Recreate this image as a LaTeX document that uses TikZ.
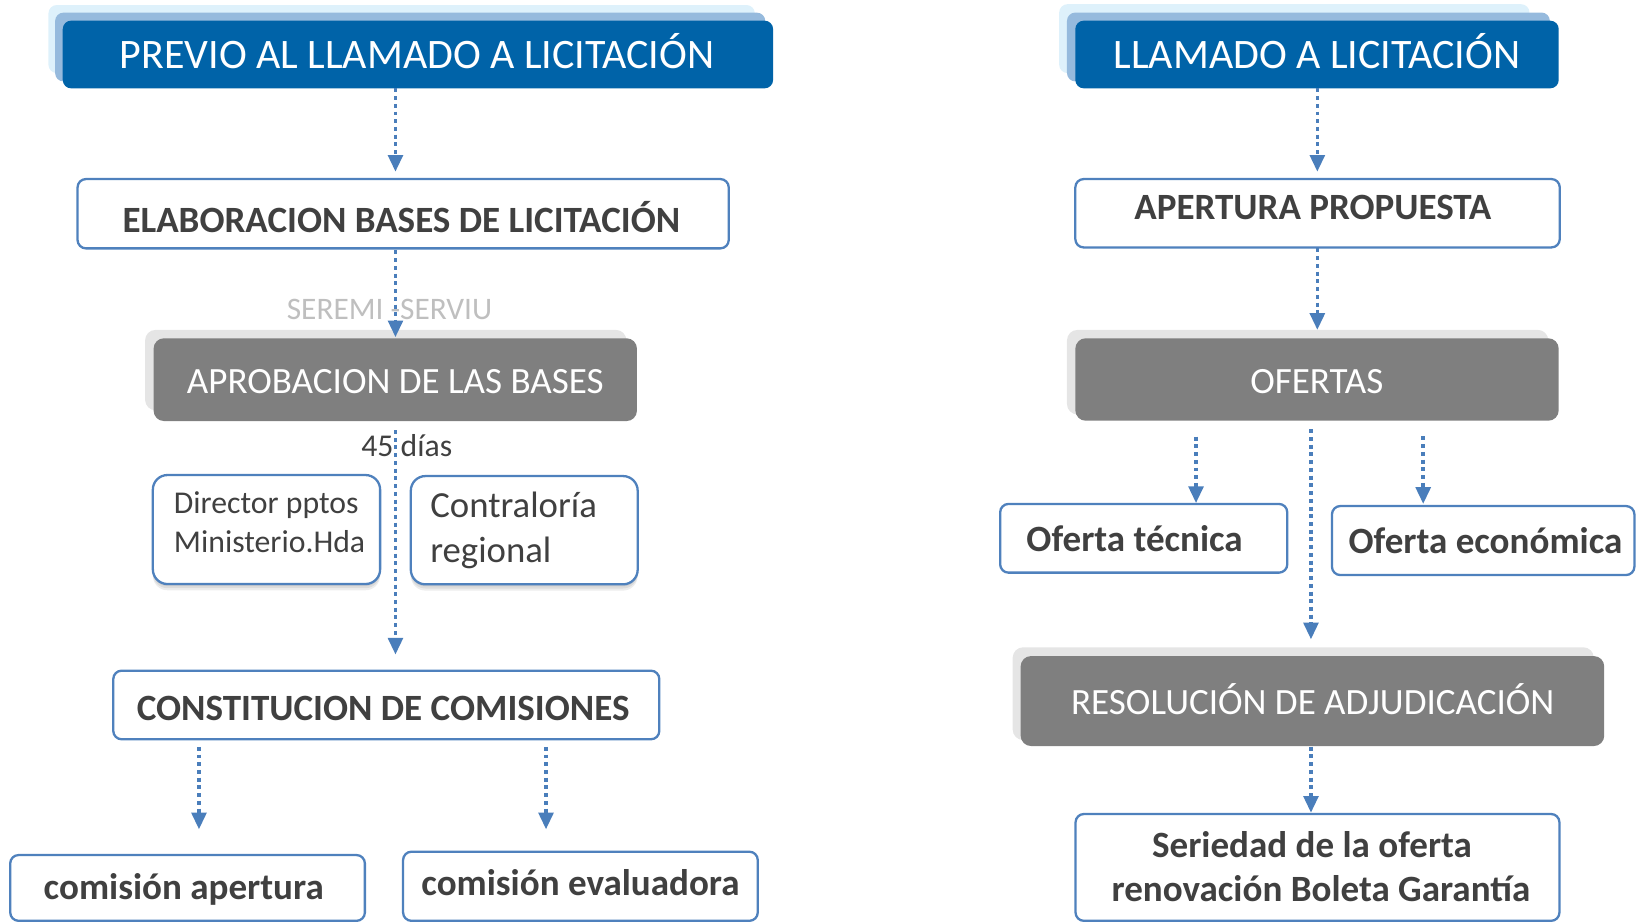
\documentclass[tikz,border=0pt]{standalone}
\usepackage{fontspec}
\setmainfont{Carlito}
\usetikzlibrary{arrows.meta,fit}
\definecolor{titleblue}{RGB}{0,99,168}
\definecolor{medblue}{RGB}{150,186,221}
\definecolor{lightblue}{RGB}{222,241,251}
\definecolor{boxgray}{RGB}{127,127,127}
\definecolor{shadowgray}{RGB}{229,229,229}
\definecolor{borderblue}{RGB}{79,129,189}
\definecolor{arrowblue}{RGB}{74,126,187}
\definecolor{textdark}{RGB}{64,64,64}
\definecolor{seremigray}{RGB}{191,191,191}
\newcommand\mkbox[6]{\node[#2, fit={(#3,#4) (#5,#6)}] (#1) {};}
\begin{document}
\begin{tikzpicture}[x=0.5pt,y=-0.5pt,
  box/.style={inner sep=0pt, outer sep=0pt, rectangle},
  titlebox/.style={box, fill=titleblue, rounded corners=4pt},
  graybox/.style={box, fill=boxgray, rounded corners=5pt},
  whitebox/.style={box, draw=borderblue, line width=1.1pt, fill=white, rounded corners=4pt},
  softbox/.style={whitebox, rounded corners=7pt},
  conn/.style={draw=arrowblue, line width=1.75pt, dash pattern=on 1.9pt off 1.8pt, -{Triangle[length=8pt,width=7pt]}},
  txt/.style={inner sep=0pt, anchor=base},
  titletxt/.style={txt, text=white, font=\fontsize{20.1pt}{24pt}\selectfont},
  graytxt/.style={txt, text=white, font=\fontsize{17.75pt}{21pt}\selectfont},
  boldtxt/.style={txt, text=textdark, font=\bfseries\fontsize{17.75pt}{21pt}\selectfont},
  smalltxt/.style={txt, anchor=base west, text=textdark, font=\fontsize{15.2pt}{18pt}\selectfont},
  midtxt/.style={txt, anchor=base west, text=textdark, font=\fontsize{17.6pt}{21pt}\selectfont},
  notetxt/.style={txt, text=textdark, font=\fontsize{15.2pt}{18pt}\selectfont},
  seremitxt/.style={txt, text=seremigray, font=\fontsize{15pt}{18pt}\selectfont},
  layerlight/.style={fill=lightblue, rounded corners=4pt},
  layermed/.style={fill=medblue, rounded corners=4pt},
  graylayer/.style={fill=shadowgray, rounded corners=5pt},
  softshadow/.style={fill=black, opacity=0.07, rounded corners=7pt}
]
\useasboundingbox (0,0) rectangle (1568,884);
\clip (0,0) rectangle (1568,884);

% ---------- decorative back layers ----------
\fill[layerlight] (46.4,4.8) rectangle (723,70);
\fill[layermed] (52.8,12.1) rectangle (733,78);
\fill[layerlight] (1014.5,4) rectangle (1465,70);
\fill[layermed] (1022,12) rectangle (1484.5,78);
\fill[graylayer] (139,316) rectangle (600,393);
\fill[graylayer] (1022,316) rectangle (1483,397);
\fill[graylayer] (970,620) rectangle (1526.6,708.8);
\foreach \d in {2,4,6}{
  \fill[softshadow] (146.4,455+\d) rectangle (364.1,559.4+\d);
  \fill[softshadow] (393.5,456+\d) rectangle (610.8,559.7+\d);
}

% ---------- boxes ----------
\mkbox{prev}{titlebox}{60.1}{19.8}{740.5}{84.6}
\mkbox{llam}{titlebox}{1030}{19.8}{1493}{84.6}
\mkbox{elab}{whitebox}{74.3}{171.5}{698}{237.9}
\mkbox{apert}{whitebox}{1030}{171.5}{1494}{237}
\mkbox{aprob}{graybox}{147.1}{324}{610.1}{403.3}
\mkbox{ofer}{graybox}{1030}{324}{1493}{403}
\mkbox{dir}{softbox}{146.4}{455}{364.1}{559.4}
\mkbox{contr}{softbox}{393.5}{456}{610.8}{559.7}
\mkbox{constit}{whitebox}{108.5}{642.4}{631.5}{708.1}
\mkbox{oftec}{whitebox}{958}{482.7}{1233}{548.5}
\mkbox{ofeco}{whitebox}{1275.8}{484.7}{1565.5}{550.8}
\mkbox{resol}{graybox}{977.6}{628.4}{1536.6}{714.6}
\mkbox{comap}{whitebox}{9.8}{819}{349.5}{882}
\mkbox{comev}{whitebox}{386.1}{815.8}{725.8}{882}
\mkbox{seri}{whitebox}{1030.2}{779.7}{1493.7}{882}

% ---------- connectors ----------
\coordinate (xa) at (378.8,0);
\coordinate (xl) at (190.6,0);
\coordinate (xr) at (523,0);
\coordinate (xb) at (1261.8,0);
\coordinate (xbl) at (1145.6,0);
\coordinate (xbc) at (1255.7,0);
\coordinate (xbr) at (1363.2,0);

\draw[conn, shorten >=3.5pt] (prev.south -| xa) -- (elab.north -| xa);
\draw[conn, shorten <=1pt, shorten >=0.5pt] (elab.south -| xa) -- (aprob.north -| xa);
\draw[conn, shorten <=4.3pt, shorten >=7.7pt] (aprob.south -| xa) -- (constit.north -| xa);
\draw[conn, shorten <=3.6pt, shorten >=12.3pt] (constit.south -| xl) -- (comap.north -| xl);
\draw[conn, shorten <=3.6pt, shorten >=10.7pt] (constit.south -| xr) -- (comev.north -| xr);

\draw[conn, shorten >=3.5pt] (llam.south -| xb) -- (apert.north -| xb);
\draw[conn, shorten <=0.5pt, shorten >=4pt] (apert.south -| xb) -- (ofer.north -| xb);
\draw[conn, shorten <=7.6pt, shorten >=0.4pt] (ofer.south -| xbl) -- (oftec.north -| xbl);
\draw[conn, shorten <=4.1pt, shorten >=8pt] (ofer.south -| xbc) -- (resol.north -| xbc);
\draw[conn, shorten <=7.5pt, shorten >=1pt] (ofer.south -| xbr) -- (ofeco.north -| xbr);
\draw[conn, shorten <=0.3pt, shorten >=0.6pt] (resol.south -| xbc) -- (seri.north -| xbc);

% ---------- texts ----------
\node[titletxt] (prevT) at (399.5,65.4) {PREVIO AL LLAMADO A LICITACIÓN};
\node[titletxt] (llamT) at (1261.5,66) {LLAMADO A LICITACIÓN};
\node[boldtxt] (elabT) at (384.4,222.5) {ELABORACION BASES DE LICITACIÓN};
\node[boldtxt] (apertT) at (1257.5,210.7) {APERTURA PROPUESTA};
\node[seremitxt] (seremiT) at (373.1,306.5) {SEREMI -SERVIU};
\node[graytxt] (aprobT) at (378.6,376.7) {APROBACION DE LAS BASES};
\node[graytxt] (oferT) at (1261.3,377) {OFERTAS};
\node[notetxt] (diasT) at (389.6,437.4) {45 días};
\node[smalltxt] (dirT1) at (166.2,492) {Director pptos};
\node[smalltxt] (dirT2) at (166.2,529) {Ministerio.Hda};
\node[midtxt] (contrT1) at (411.8,496) {Contraloría};
\node[midtxt] (contrT2) at (411.8,539) {regional};
\node[boldtxt] (constitT) at (367,690.3) {CONSTITUCION DE COMISIONES};
\node[boldtxt, anchor=base west] (oftecT) at (982.8,528) {Oferta técnica};
\node[boldtxt] (ofecoT) at (1422.9,530) {Oferta económica};
\node[graytxt] (resolT) at (1257.4,684) {RESOLUCIÓN DE ADJUDICACIÓN};
\node[boldtxt] (comapT) at (176,862) {comisión apertura};
\node[boldtxt] (comevT) at (556,858.2) {comisión evaluadora};
\node[boldtxt] (seriT1) at (1256.7,821) {Seriedad de la oferta};
\node[boldtxt] (seriT2) at (1265.2,863.7) {renovación Boleta Garantía};
\end{tikzpicture}
\end{document}
